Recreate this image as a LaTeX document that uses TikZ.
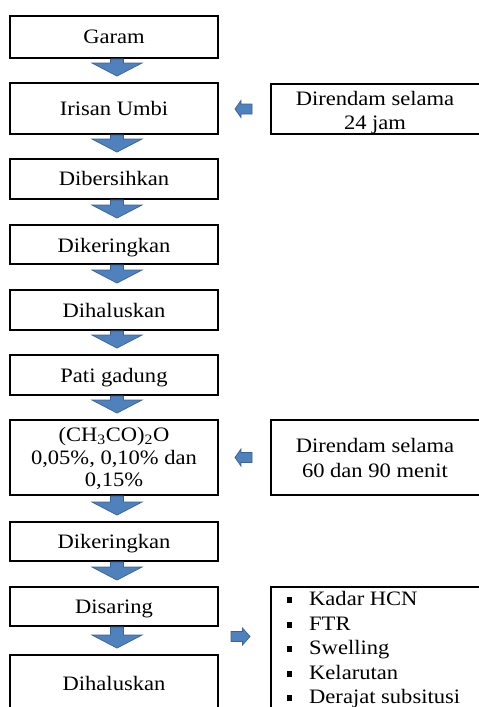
\documentclass[tikz,border=0pt]{standalone}
\usepackage{fontspec}
\setmainfont{Liberation Serif}[FakeStretch=1.1]
\usetikzlibrary{calc}
\definecolor{arrfill}{RGB}{79,129,189}
\definecolor{arrdraw}{RGB}{58,98,148}
\tikzset{
  box/.style={draw=black, line width=1.9pt, rectangle, inner sep=0pt},
  lbox/.style={box, minimum width=208pt},
  rbox/.style={box, minimum width=210pt},
  txt/.style={inner sep=0pt, anchor=base, font=\fontsize{20.5}{24}\selectfont},
  ltxt/.style={txt, anchor=base west},
  blockarr/.style={fill=arrfill, draw=arrdraw, line width=0.7pt, line join=miter},
  bullet/.style={fill=black, minimum size=5.5pt, inner sep=0pt, rectangle}
}
% down block arrow from node #1 to node #2
\newcommand\dnarrow[2]{%
  \path[blockarr] let \p1=(#1.south), \p2=(#2.north) in
   (\x1-3.5pt,\y1) -- (\x1+9.5pt,\y1) -- (\x1+9.5pt,\y2+19pt) -- (\x1+28pt,\y2+19pt)
   -- (\x1+3pt,\y2+6pt) -- (\x1-22pt,\y2+19pt) -- (\x1-3.5pt,\y2+19pt) -- cycle;}
% left block arrow from node #1 (right) to node #2 (left)
\newcommand\lfarrow[2]{%
  \path[blockarr] let \p1=(#1.west), \p2=(#2.east) in
   (\x1-18pt,\y1+5pt) -- (\x2+22pt,\y1+5pt) -- (\x2+22pt,\y1+8.5pt) -- (\x2+16pt,\y1)
   -- (\x2+22pt,\y1-8.5pt) -- (\x2+22pt,\y1-5pt) -- (\x1-18pt,\y1-5pt) -- cycle;}
% right block arrow between coordinates #1 and #2
\newcommand\rtarrow[2]{%
  \path[blockarr] let \p1=(#1), \p2=(#2) in
   (\x1,\y1+5pt) -- (\x2-7.5pt,\y1+5pt) -- (\x2-7.5pt,\y1+8.5pt) -- (\x2,\y1)
   -- (\x2-7.5pt,\y1-8.5pt) -- (\x2-7.5pt,\y1-5pt) -- (\x1,\y1-5pt) -- cycle;}
\begin{document}
\begin{tikzpicture}[x=1pt,y=-1pt]
\useasboundingbox (0,0) rectangle (479,707);
\clip (0,0) rectangle (479,707);
\fill[white] (0,0) rectangle (479,707);

% left column boxes
\node[lbox, minimum height=42pt] (garam)  at (114,37) {};
\node[lbox, minimum height=51pt] (irisan) at (114,108.5) {};
\node[lbox, minimum height=40pt] (bersih) at (114,179) {};
\node[lbox, minimum height=39pt] (kering1) at (114,244.5) {};
\node[lbox, minimum height=40pt] (halus1) at (114,310) {};
\node[lbox, minimum height=40pt] (pati) at (114,375) {};
\node[lbox, minimum height=75pt] (kimia) at (114,457.5) {};
\node[lbox, minimum height=39pt] (kering2) at (114,541.5) {};
\node[lbox, minimum height=39pt] (saring) at (114,606.5) {};
\node[lbox, minimum height=75pt] (halus2) at (114,692.5) {};

% right column boxes
\node[rbox, minimum height=50pt] (rend1) at (376,109) {};
\node[rbox, minimum height=75pt] (rend2) at (376,457.5) {};
\node[rbox, minimum height=173pt] (hasil) at (376,673.5) {};

% texts
\node[txt] (tgaram) at (114,43) {Garam};
\node[txt] (tirisan) at (114,115) {Irisan Umbi};
\node[txt] (trend1a) at (375,105) {Direndam selama};
\node[txt] (trend1b) at (375,129) {24 jam};
\node[txt] (tbersih) at (114,185) {Dibersihkan};
\node[txt] (tkering1) at (114,252) {Dikeringkan};
\node[txt] (thalus1) at (114,317) {Dihaluskan};
\node[txt] (tpati) at (114,382) {Pati gadung};
\node[txt] (tkimiaa) at (114,441.5) {(CH\textsubscript{3}CO)\textsubscript{2}O};
\node[txt] (tkimiab) at (114,464) {0,05\%, 0,10\% dan};
\node[txt] (tkimiac) at (114,486.5) {0,15\%};
\node[txt] (trend2a) at (375,452) {Direndam selama};
\node[txt] (trend2b) at (375,477) {60 dan 90 menit};
\node[txt] (tkering2) at (114,548) {Dikeringkan};
\node[txt] (tsaring) at (114,613) {Disaring};
\node[txt] (thalus2) at (114,690) {Dihaluskan};

% result list
\node[bullet] (b1) at (289.5,600) {};
\node[bullet] (b2) at (289.5,625) {};
\node[bullet] (b3) at (289.5,649) {};
\node[bullet] (b4) at (289.5,674) {};
\node[bullet] (b5) at (289.5,698) {};
\node[ltxt] (h1) at (309,605) {Kadar HCN};
\node[ltxt] (h2) at (309,630) {FTR};
\node[ltxt] (h3) at (309,654) {Swelling};
\node[ltxt] (h4) at (309,679) {Kelarutan};
\node[ltxt] (h5) at (309,703) {Derajat subsitusi};

% arrows
\dnarrow{garam}{irisan}
\dnarrow{irisan}{bersih}
\dnarrow{bersih}{kering1}
\dnarrow{kering1}{halus1}
\dnarrow{halus1}{pati}
\dnarrow{pati}{kimia}
\dnarrow{kimia}{kering2}
\dnarrow{kering2}{saring}
\dnarrow{saring}{halus2}
\lfarrow{rend1}{irisan}
\lfarrow{rend2}{kimia}
\coordinate (ra) at (231,636.5);
\coordinate (rb) at (250,636.5);
\rtarrow{ra}{rb}
\end{tikzpicture}
\end{document}
